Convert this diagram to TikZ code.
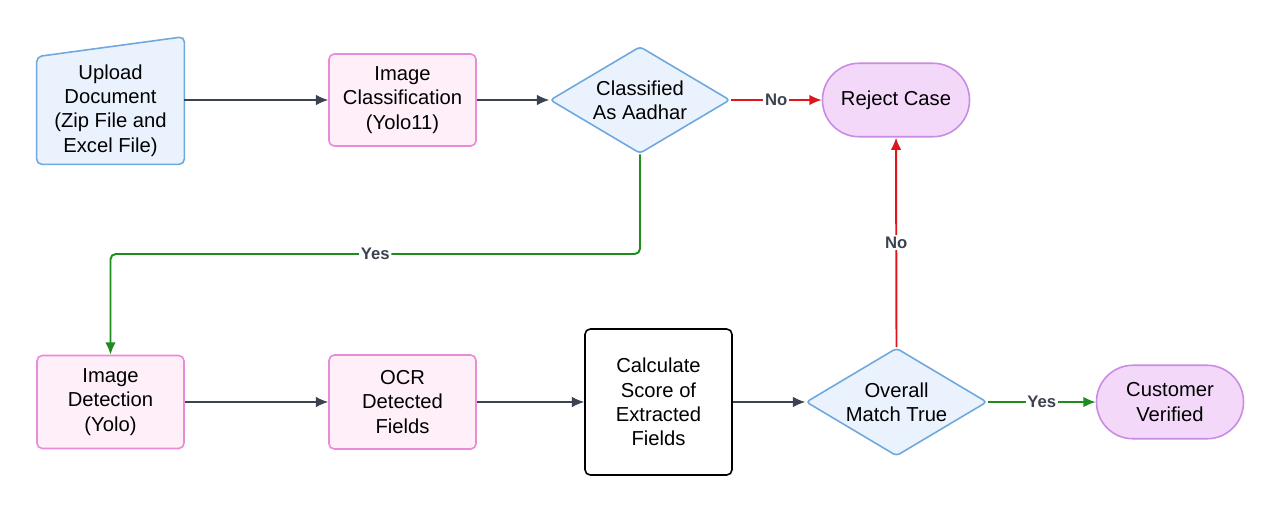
\documentclass[tikz,border=0pt]{standalone}
\usepackage{fontspec}
\setmainfont{Liberation Sans}
\usetikzlibrary{arrows.meta,shapes.geometric}
\tikzset{% change default arrow tips
    >={Latex[length=7pt,width=6pt]}
}
\definecolor{inblue}{HTML}{EAF3FD}
\definecolor{inblueline}{HTML}{6FA8DC}
\definecolor{procpink}{HTML}{FEEFF9}
\definecolor{procpinkline}{HTML}{E98BD8}
\definecolor{termpurple}{HTML}{F3D8FA}
\definecolor{termpurpleline}{HTML}{C98BE3}
\definecolor{flowgray}{HTML}{3C4350}
\definecolor{noline}{HTML}{E0151B}
\definecolor{yesline}{HTML}{1E8C1E}
\tikzset{
    txt/.style={font=\fontsize{11.5}{13.8}\selectfont, align=center, text=black},
    process/.style={txt, rectangle, rounded corners=3pt, draw=procpinkline, fill=procpink, line width=0.9pt, minimum width=2.94cm, minimum height=1.86cm},
    decision/.style={txt, diamond, aspect=1.68, rounded corners=2pt, draw=inblueline, fill=inblue, line width=0.9pt, minimum width=3.6cm, minimum height=2.14cm, inner sep=0pt},
    terminal/.style={txt, rectangle, rounded corners=0.73cm, draw=termpurpleline, fill=termpurple, line width=0.9pt, minimum width=2.94cm, minimum height=1.47cm},
    flow/.style={->, draw=flowgray, line width=0.7pt},
    noflow/.style={->, draw=noline, line width=1.1pt},
    yesflow/.style={->, draw=yesline, line width=1.1pt},
    lbl/.style={font=\fontsize{9.5}{11}\selectfont\bfseries, text=flowgray, fill=white, inner sep=1pt}
}

\begin{document}
\begin{tikzpicture}
    \newcommand{\toprow}{-2}
    \newcommand{\botrow}{-8.04}
    \useasboundingbox (0,0) rectangle (25.6,-10.24);

    % upper row
    \node[txt, minimum width=2.94cm, minimum height=2.14cm] (upload) at (2.21,-2.21) {};
    \filldraw[fill=inblue, draw=inblueline, line width=0.9pt, rounded corners=3pt] (upload.south west) -- (upload.north west) -- ([yshift=0.4cm]upload.north east) -- (upload.south east) -- cycle;
    \node[txt] (uploadtext) at (upload) {Upload\\Document\\(Zip File and\\Excel File)};
    \node[process, minimum height=1.84cm] (classify) at (8.05,\toprow) {Image\\Classification\\(Yolo11)};
    \node[decision] (aadhar) at (12.8,\toprow) {Classified\\As Aadhar};
    \node[terminal] (reject) at (17.92,\toprow) {Reject Case};

    % lower row
    \node[process] (detect) at (2.21,\botrow) {Image\\Detection\\(Yolo)};
    \node[process, minimum height=1.88cm] (ocr) at (8.05,\botrow) {OCR\\Detected\\Fields};
    \node[txt, rectangle, rounded corners=3pt, draw=black, fill=white, line width=0.9pt, minimum width=2.94cm, minimum height=2.92cm] (score) at (13.17,\botrow) {Calculate\\Score of\\Extracted\\Fields};
    \node[decision, minimum width=3.62cm, minimum height=2.16cm] (match) at (17.93,\botrow) {Overall\\Match True};
    \node[terminal] (verified) at (23.4,\botrow) {Customer\\Verified};

    % connectors
    \coordinate (turn) at (12.8,-5.08);
    \draw[flow] (upload.east |- classify.west) -- (classify.west);
    \draw[flow] (classify.east) -- (aadhar.west);
    \draw[noflow] (aadhar.east) -- (reject.west) node [midway, lbl] {No};
    \draw[yesflow, rounded corners=3pt] (aadhar.south) -- (turn) -| node [pos=0.25, lbl] {Yes} (detect.north);
    \draw[flow] (detect.east) -- (ocr.west);
    \draw[flow] (ocr.east) -- (score.west);
    \draw[flow] (score.east) -- (match.west);
    \draw[noflow] (match.north) -- (reject.south) node [midway, lbl] {No};
    \draw[yesflow] (match.east) -- (verified.west) node [midway, lbl] {Yes};
\end{tikzpicture}
\end{document}
